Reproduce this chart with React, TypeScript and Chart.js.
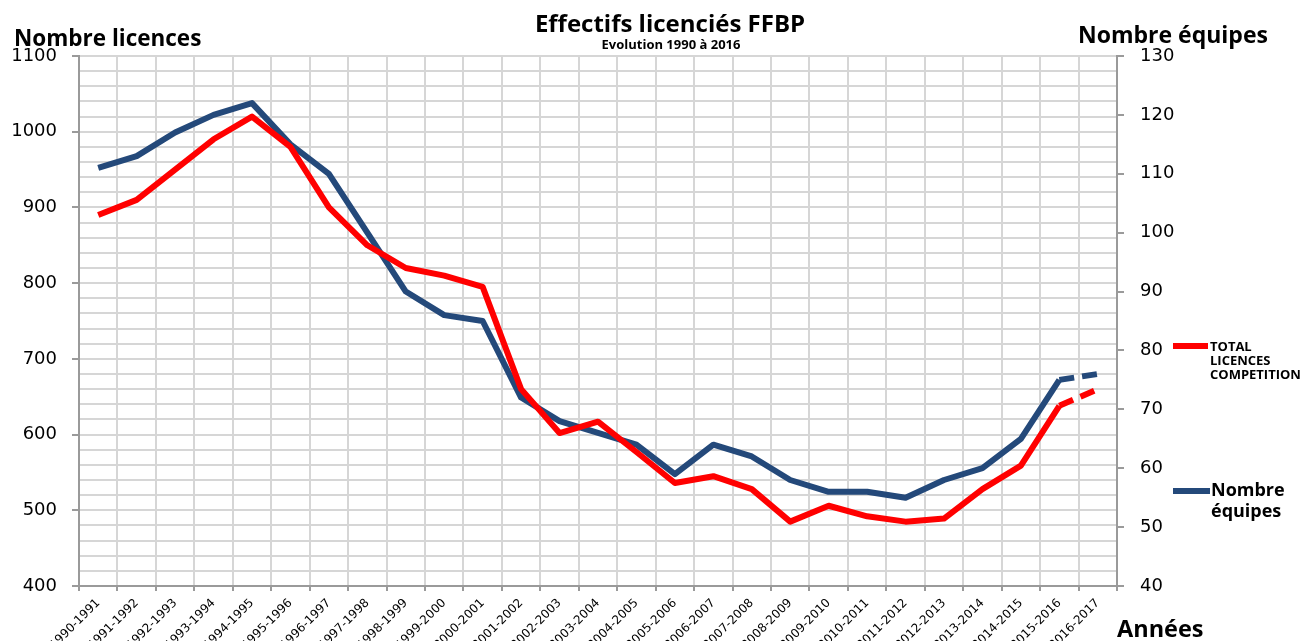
import React, { useEffect, useRef } from 'react';
import { Chart, registerables } from 'chart.js';

Chart.register(...registerables);

const categories = [
  '1990-1991', '1991-1992', '1992-1993', '1993-1994', '1994-1995', '1995-1996',
  '1996-1997', '1997-1998', '1998-1999', '1999-2000', '2000-2001', '2001-2002',
  '2002-2003', '2003-2004', '2004-2005', '2005-2006', '2006-2007', '2007-2008',
  '2008-2009', '2009-2010', '2010-2011', '2011-2012', '2012-2013', '2013-2014',
  '2014-2015', '2015-2016', '2016-2017',
];

const licences = [
  890, 910, 950, 990, 1020, 980, 900, 850, 820, 810, 795, 660, 602, 617,
  577, 536, 545, 528, 485, 506, 492, 485, 489, 528, 559, 638, 660,
];

const equipes = [
  111, 113, 117, 120, 122, 115, 110, 100, 90, 86, 85, 72, 68, 66,
  64, 59, 64, 62, 58, 56, 56, 55, 58, 60, 65, 75, 76,
];

// last season is drawn dashed (provisional)
const dashedFromCategory = '2015-2016';

const leftAxis = { min: 400, max: 1100, major: 100, minor: 20 };
const rightAxis = { min: 40, max: 130, step: 10 };

const TITLE = 'Effectifs licenciés FFBP';
const SUBTITLE = 'Evolution 1990 à 2016';
const LEFT_TITLE = 'Nombre licences';
const RIGHT_TITLE = 'Nombre équipes';
const X_TITLE = 'Années';
const LEGEND_RED = ['TOTAL', 'LICENCES', 'COMPETITION'];
const LEGEND_BLUE = ['Nombre', 'équipes'];

const RED = '#FF0000';
const BLUE = '#24497A';
const GRID = '#d6d6d6';
const AXIS = '#9a9a9a';

const W = 1302;
const H = 641;
const PLOT_LEFT = 79;
const PLOT_RIGHT = 1117;
const PLOT_TOP = 56;
const PLOT_BOTTOM = 586;

const overlayPlugin = {
  id: 'overlay',
  afterDraw(chart: any) {
    const ctx = chart.ctx as CanvasRenderingContext2D;
    ctx.save();
    ctx.fillStyle = '#000';
    ctx.textBaseline = 'middle';
    ctx.textAlign = 'center';
    ctx.font = 'bold 24px "Open Sans"';
    ctx.fillText(TITLE, 670, 25);
    ctx.font = 'bold 13px "Open Sans"';
    ctx.fillText(SUBTITLE, 671, 45);

    ctx.textAlign = 'left';
    ctx.font = 'bold 22.5px "Open Sans"';
    ctx.fillText(LEFT_TITLE, 14, 40);
    ctx.font = 'bold 23px "Open Sans"';
    ctx.fillText(RIGHT_TITLE, 1078, 36);
    ctx.font = 'bold 23.5px "Open Sans"';
    ctx.fillText(X_TITLE, 1117, 630);

    // legend
    ctx.lineWidth = 6;
    ctx.lineCap = 'butt';
    ctx.strokeStyle = RED;
    ctx.beginPath();
    ctx.moveTo(1173, 346);
    ctx.lineTo(1208, 346);
    ctx.stroke();
    ctx.font = 'bold 13px "Open Sans"';
    LEGEND_RED.forEach((t, i) => ctx.fillText(t, 1210, 347 + i * 14));

    ctx.strokeStyle = BLUE;
    ctx.beginPath();
    ctx.moveTo(1173, 491);
    ctx.lineTo(1210, 491);
    ctx.stroke();
    ctx.font = 'bold 18px "Open Sans"';
    LEGEND_BLUE.forEach((t, i) => ctx.fillText(t, 1211, 491 + i * 21));
    ctx.restore();
  },
};

export default function App() {
  const ref = useRef<HTMLCanvasElement>(null);

  useEffect(() => {
    document.body.style.margin = '0';
    const canvas = ref.current;
    if (!canvas) return;
    const dashIdx = categories.indexOf(dashedFromCategory);
    const seg = {
      borderDash: (c: any) => (c.p0DataIndex >= dashIdx ? [15, 8] : undefined),
    };
    const chart = new Chart(canvas, {
      type: 'line',
      data: {
        labels: categories,
        datasets: [
          {
            label: 'TOTAL LICENCES COMPETITION',
            data: licences,
            yAxisID: 'yL',
            borderColor: RED,
            backgroundColor: RED,
            borderWidth: 6,
            pointRadius: 0,
            tension: 0,
            borderJoinStyle: 'round',
            borderCapStyle: 'butt',
            segment: seg,
          },
          {
            label: 'Nombre équipes',
            data: equipes,
            yAxisID: 'yR',
            borderColor: BLUE,
            backgroundColor: BLUE,
            borderWidth: 6,
            pointRadius: 0,
            tension: 0,
            borderJoinStyle: 'round',
            borderCapStyle: 'butt',
            segment: seg,
          },
        ],
      },
      options: {
        responsive: false,
        animation: false,
        devicePixelRatio: 1,
        layout: { padding: { top: PLOT_TOP, left: 0, right: 0, bottom: 0 } },
        plugins: {
          legend: { display: false },
          title: { display: false },
          tooltip: { enabled: false },
        },
        scales: {
          x: {
            type: 'category',
            offset: true,
            grid: {
              offset: true,
              color: GRID,
              lineWidth: 2,
              tickLength: 5,
              tickColor: AXIS,
            },
            border: { color: AXIS, width: 2 },
            ticks: {
              autoSkip: false,
              maxRotation: 45,
              minRotation: 45,
              padding: 5,
              color: '#000',
              font: { family: '"DejaVu Sans"', size: 12 },
            },
            afterFit: (s: any) => {
              s.height = H - PLOT_BOTTOM;
            },
          },
          yL: {
            type: 'linear',
            position: 'left',
            min: leftAxis.min,
            max: leftAxis.max,
            grid: {
              color: GRID,
              lineWidth: 2,
              tickLength: 7,
              tickColor: (c: any) =>
                c.tick && c.tick.value % leftAxis.major === 0 ? AXIS : 'rgba(0,0,0,0)',
            },
            border: { color: AXIS, width: 2 },
            ticks: {
              stepSize: leftAxis.minor,
              autoSkip: false,
              padding: 15,
              color: '#000',
              font: { family: '"DejaVu Sans"', size: 18 },
              callback: (v: any) => (Number(v) % leftAxis.major === 0 ? String(v) : ''),
            },
            afterFit: (s: any) => {
              s.width = PLOT_LEFT;
            },
          },
          yR: {
            type: 'linear',
            position: 'right',
            min: rightAxis.min,
            max: rightAxis.max,
            grid: {
              drawOnChartArea: false,
              tickLength: 7,
              tickColor: AXIS,
              lineWidth: 2,
            },
            border: { color: AXIS, width: 2 },
            ticks: {
              stepSize: rightAxis.step,
              autoSkip: false,
              padding: 16,
              color: '#000',
              font: { family: '"DejaVu Sans"', size: 18 },
            },
            afterFit: (s: any) => {
              s.width = W - PLOT_RIGHT;
            },
          },
        },
      },
      plugins: [overlayPlugin],
    });
    return () => chart.destroy();
  }, []);

  return (
    <div style={{ width: W, height: H, background: '#fff' }}>
      <canvas ref={ref} width={W} height={H} style={{ width: W, height: H, display: 'block' }} />
    </div>
  );
}
